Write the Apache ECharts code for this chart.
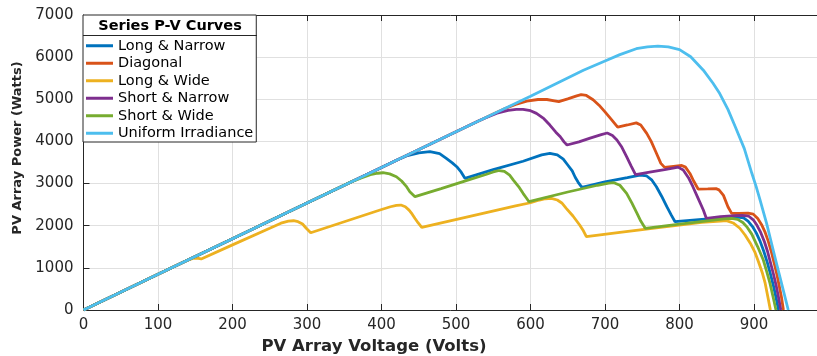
<!DOCTYPE html>
<html>
<head>
<meta charset="utf-8">
<script src="https://cdn.jsdelivr.net/npm/echarts@6/dist/echarts.min.js"></script>
<style>
    html, body {margin: 0; padding: 0; background: #fff;}
    #pvChart {width: 817px; height: 356px;}
</style>
</head>
<body>
<div id="pvChart"></div>
<script>
// Series P-V curves, [voltage (V), power (W)]
const longNarrow = [[0, 0], [100, 846], [200, 1692], [300, 2538], [400, 3384], [420, 3553], [435, 3665], [450, 3730],
    [465, 3757], [478, 3710], [487, 3598], [495, 3490], [501, 3400], [507, 3270], [512, 3124], [550, 3330], [590, 3530],
    [615, 3680], [626, 3715], [636, 3680], [644, 3580], [650, 3440], [656, 3300], [660, 3150], [664, 3030], [669, 2911],
    [700, 3040], [730, 3140], [747, 3200], [756, 3180], [763, 3080], [769, 2925], [776, 2700], [783, 2451], [789, 2250],
    [794, 2095], [830, 2150], [860, 2185], [878, 2205], [886, 2185], [892, 2110], [898, 1980], [903, 1830], [908, 1640],
    [913, 1400], [918, 1120], [922, 860], [926, 580], [929.5, 300], [933, 0]];

const diagonal = [[0, 0], [100, 846], [200, 1692], [300, 2538], [400, 3384], [500, 4230], [550, 4653], [565, 4775],
    [580, 4880], [595, 4955], [610, 4995], [622, 4995], [632, 4965], [638, 4945], [650, 5010], [662, 5080], [668, 5110],
    [675, 5090], [684, 4990], [692, 4860], [700, 4700], [709, 4510], [717, 4340], [730, 4390], [742, 4440], [748, 4390],
    [756, 4190], [762, 4000], [768, 3760], [775, 3480], [780, 3385], [792, 3410], [803, 3430], [808, 3390], [814, 3240],
    [819, 3060], [825, 2870], [838, 2875], [849, 2880], [853, 2850], [859, 2720], [865, 2450], [870, 2294], [880, 2290],
    [892, 2300], [899, 2275], [905, 2170], [910, 2030], [915, 1840], [919, 1640], [923, 1400], [927, 1120], [931, 820],
    [934, 560], [937, 290], [939.5, 0]];

const longWide = [[0, 0], [100, 846], [140, 1185], [147, 1225], [152, 1232], [158, 1212], [200, 1545], [250, 1940],
    [265, 2060], [275, 2110], [282, 2118], [288, 2095], [294, 2040], [299, 1940], [305, 1834], [350, 2095], [398, 2372],
    [412, 2450], [420, 2485], [426, 2490], [432, 2450], [437, 2370], [441, 2280], [445, 2170], [449, 2071], [454, 1962],
    [520, 2230], [580, 2470], [600, 2545], [612, 2610], [620, 2640], [628, 2648], [636, 2610], [642, 2540], [648, 2413],
    [657, 2230], [666, 2017], [671, 1880], [675, 1739], [720, 1840], [780, 1970], [830, 2080], [855, 2112], [863, 2119],
    [872, 2065], [881, 1940], [888, 1780], [895, 1585], [901, 1380], [906, 1145], [911, 890], [915, 635], [918.5, 320],
    [922, 0]];

const shortNarrow = [[0, 0], [100, 846], [200, 1692], [300, 2538], [400, 3384], [500, 4230], [530, 4484], [540, 4560],
    [555, 4670], [570, 4735], [581, 4760], [590, 4762], [600, 4730], [608, 4666], [618, 4540], [626, 4389], [634, 4220],
    [640, 4112], [645, 3990], [649, 3915], [665, 3990], [680, 4080], [695, 4160], [703, 4200], [710, 4140], [716, 4033],
    [722, 3880], [729, 3637], [735, 3420], [741, 3210], [760, 3270], [780, 3330], [793, 3370], [798, 3390], [805, 3321],
    [812, 3140], [818, 2925], [825, 2650], [832, 2372], [836, 2175], [855, 2213], [875, 2240], [884, 2245], [893, 2225],
    [899, 2140], [904, 2010], [909, 1840], [914, 1620], [918, 1400], [922, 1130], [926, 860], [930, 560], [933, 290],
    [936, 0]];

const shortWide = [[0, 0], [100, 846], [200, 1692], [300, 2538], [360, 3046], [372, 3130], [385, 3210], [395, 3245],
    [402, 3257], [411, 3230], [420, 3163], [427, 3060], [433, 2940], [438, 2807], [445, 2689], [480, 2880], [519, 3100],
    [540, 3215], [550, 3275], [558, 3310], [565, 3290], [572, 3200], [577, 3084], [584, 2930], [590, 2768], [594, 2670],
    [598, 2570], [650, 2800], [690, 2960], [705, 3010], [712, 3020], [720, 2960], [729, 2768], [736, 2540], [743, 2294],
    [748, 2110], [754, 1938], [800, 2040], [840, 2120], [860, 2160], [870, 2172], [878, 2150], [885, 2075], [891, 1960],
    [897, 1800], [905, 1500], [912.5, 1186], [917, 915], [921.5, 633], [925.5, 320], [929.5, 0]];

const uniform = [[0, 0], [100, 846], [200, 1692], [300, 2538], [400, 3384], [500, 4230], [600, 5070], [671, 5690],
    [700, 5910], [720, 6060], [742, 6200], [757, 6245], [771, 6263], [785, 6245], [800, 6180], [815, 6010], [832, 5690],
    [845, 5380], [854, 5135], [865, 4760], [875, 4344], [887, 3830], [897, 3250], [903, 2920], [908, 2620], [917, 2050],
    [923, 1620], [930, 1120], [938, 560], [946, 0]];

const seriesNames = ['Long & Narrow', 'Diagonal', 'Long & Wide', 'Short & Narrow', 'Short & Wide', 'Uniform Irradiance'];
const seriesData = [longNarrow, diagonal, longWide, shortNarrow, shortWide, uniform];
const colors = ['#0072BD', '#D95319', '#EDB120', '#7E2F8E', '#77AC30', '#4DBEEE'];

const axisColor = '#262626';
const font = 'DejaVu Sans';

let myChart = echarts.init(document.getElementById('pvChart'), null, {renderer: 'canvas'});

let series = seriesNames.map(function (name, i) {
    return {
        name: name,
        type: 'line',
        data: seriesData[i],
        symbol: 'none',
        color: colors[i],
        lineStyle: {width: 2.8, color: colors[i]},
        animation: false,
        z: 2 + i
    };
});

// plain numbers, no thousands separator
let plainLabel = function (value) {
    return String(value);
};

let option = {
    backgroundColor: '#fff',
    animation: false,
    grid: {left: 83.5, top: 15, right: -11.5, bottom: 46, outerBoundsMode: 'none', containLabel: false},
    legend: {
        orient: 'vertical',
        left: 83,
        top: 15,
        padding: [22, 3, 0, 3],
        itemGap: 0,
        itemWidth: 27,
        itemHeight: 3,
        icon: 'rect',
        backgroundColor: '#fff',
        borderColor: axisColor,
        borderWidth: 1,
        z: 20,
        selectedMode: false,
        textStyle: {fontFamily: font, fontSize: 14.5, color: '#000', lineHeight: 17.5},
        data: seriesNames
    },
    graphic: [
        {
            type: 'text',
            x: 170,
            y: 26,
            z: 100,
            style: {
                text: 'Series P-V Curves',
                font: 'bold 14.5px "DejaVu Sans"',
                fill: '#000',
                align: 'center',
                verticalAlign: 'middle'
            }
        },
        {
            type: 'line',
            z: 100,
            shape: {x1: 83, y1: 35.5, x2: 257, y2: 35.5},
            style: {stroke: axisColor, lineWidth: 1}
        }
    ],
    xAxis: [
        {
            type: 'value',
            min: 0,
            max: 1000,
            interval: 100,
            name: 'PV Array Voltage (Volts)',
            nameLocation: 'middle',
            nameGap: 27,
            nameTextStyle: {fontFamily: font, fontSize: 16.5, fontWeight: 'bold', color: axisColor, padding: [0, 164, 0, 0]},
            axisLine: {show: true, lineStyle: {color: axisColor, width: 1}},
            axisTick: {show: true, inside: true, length: 6, lineStyle: {color: axisColor}},
            axisLabel: {fontFamily: font, fontSize: 15, color: axisColor, margin: 8, showMaxLabel: false, formatter: plainLabel},
            splitLine: {show: true, lineStyle: {color: '#e0e0e0', width: 1}}
        },
        {
            type: 'value',
            position: 'top',
            min: 0,
            max: 1000,
            interval: 100,
            axisLine: {show: true, onZero: false, lineStyle: {color: axisColor, width: 1}},
            axisTick: {show: true, inside: true, length: 6, lineStyle: {color: axisColor}},
            axisLabel: {show: false},
            splitLine: {show: false}
        }
    ],
    yAxis: {
        type: 'value',
        min: 0,
        max: 7000,
        interval: 1000,
        name: 'PV Array Power (Watts)',
        nameLocation: 'middle',
        nameGap: 57,
        nameTextStyle: {fontFamily: font, fontSize: 13, fontWeight: 'bold', color: axisColor, padding: [0, 0, 0, 29]},
        axisLine: {show: true, lineStyle: {color: axisColor, width: 1}},
        axisTick: {show: true, inside: true, length: 6, lineStyle: {color: axisColor}},
        axisLabel: {fontFamily: font, fontSize: 15, color: axisColor, margin: 10, formatter: plainLabel},
        splitLine: {show: true, lineStyle: {color: '#e0e0e0', width: 1}}
    },
    series: series
};

myChart.setOption(option);
</script>
</body>
</html>
